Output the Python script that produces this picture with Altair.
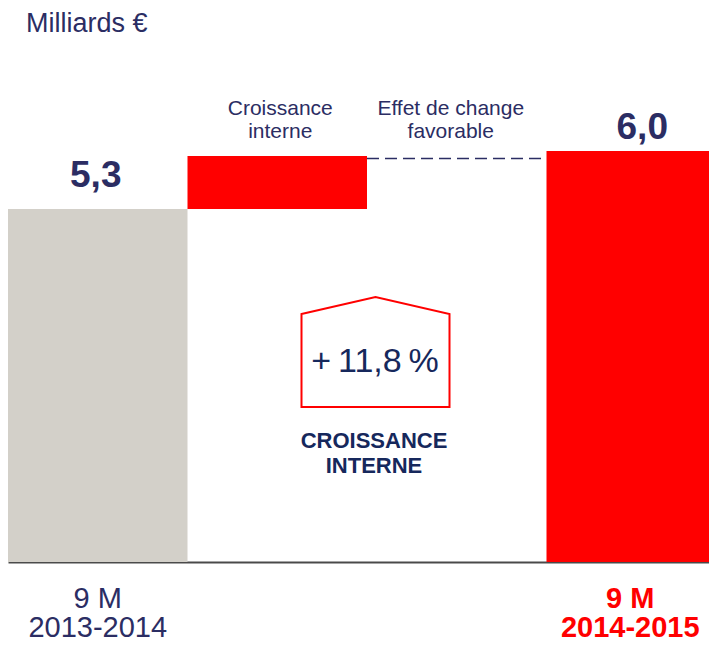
import altair as alt
import pandas as pd

# ---- data ----
categories = ["9 M\n2013-2014", "Croissance\ninterne", "Effet de change\nfavorable", "9 M\n2014-2015"]
bar_kind = ["prev", "growth", "fx", "curr"]
bar_start = [0.0, 5.3, 5.94, 0.0]
bar_end = [5.3, 5.94, 6.0, 6.0]
value_labels = ["5,3", "", "", "6,0"]
fx_level = 5.91
growth_label = "+\u200911,8\u2009%"
growth_caption = "CROISSANCE\nINTERNE"
unit_label = "Milliards €"

NAVY = "#2b2d63"
DARK = "#16285c"
RED = "#ff0000"
GREY = "#d3d0c9"
FONT = "Liberation Sans"

W, H = 701, 554

df = pd.DataFrame({"cat": categories, "kind": bar_kind, "start": bar_start,
                   "end": bar_end, "label": value_labels})
df["level"] = [None, None, fx_level, None]

y_scale = alt.Scale(domain=[1.039, 7.725], clamp=True, nice=False, zero=False)

label_expr = "indexof(datum.value, '9 M') == 0 ? split(datum.value, '\\n') : ''"
is_new = "indexof(datum.value, '2014-2015') >= 0"
x_enc = alt.X(
    "cat:N", sort=categories, title=None,
    scale=alt.Scale(paddingInner=0, paddingOuter=0, range=[0, 718]),
    axis=alt.Axis(
        labelExpr=label_expr, labelAngle=0, ticks=False,
        domainColor="#4a4a4a", domainWidth=2,
        labelFont=FONT, labelFontSize=29, labelLineHeight=29,
        labelPadding=22,
        labelOffset=alt.condition(is_new, alt.value(-6), alt.value(0)),
        labelColor=alt.condition(is_new, alt.value(RED), alt.value(NAVY)),
        labelFontWeight=alt.condition(is_new, alt.value("bold"), alt.value("normal")),
    ),
)
xs = alt.X("cat:N", sort=categories)

base = alt.Chart(df)

bars = base.transform_filter("datum.kind != 'fx'").mark_bar().encode(
    x=x_enc,
    y=alt.Y("end:Q", scale=y_scale, axis=None),
    y2="start:Q",
    color=alt.Color("kind:N", scale=alt.Scale(domain=["prev", "growth", "curr"],
                                              range=[GREY, RED, RED]), legend=None),
)

fx_rule = base.transform_filter("datum.kind == 'fx'").mark_rule(
    strokeDash=[12, 6], color=NAVY, strokeWidth=1.5
).encode(
    x=alt.X("cat:N", sort=categories, bandPosition=0),
    x2=alt.X2("cat:N", bandPosition=1),
    y=alt.Y("level:Q", scale=y_scale),
)

lab_prev = base.transform_filter("datum.kind == 'prev'").mark_text(
    font=FONT, fontSize=37, fontWeight="bold", color=NAVY, baseline="alphabetic", dy=-22, dx=-2
).encode(x=xs, y=alt.Y("end:Q", scale=y_scale), text="label:N")

lab_curr = base.transform_filter("datum.kind == 'curr'").mark_text(
    font=FONT, fontSize=37, fontWeight="bold", color=NAVY, baseline="alphabetic", dy=-12, dx=6
).encode(x=xs, y=alt.Y("end:Q", scale=y_scale), text="label:N")

head_growth = base.transform_filter("datum.kind == 'growth'").mark_text(
    font=FONT, fontSize=21, color=NAVY, baseline="alphabetic", lineBreak="\n", lineHeight=23, dx=3
).encode(x=xs, y=alt.value(107), text="cat:N")

head_fx = base.transform_filter("datum.kind == 'fx'").mark_text(
    font=FONT, fontSize=21, color=NAVY, baseline="alphabetic", lineBreak="\n", lineHeight=23, dx=-6
).encode(x=xs, y=alt.value(107), text="cat:N")

ann = pd.DataFrame({"unit": [unit_label], "growth": [growth_label], "caption": [growth_caption]})
abase = alt.Chart(ann)

unit_txt = abase.mark_text(font=FONT, fontSize=27, color=NAVY, align="left",
                           baseline="alphabetic").encode(
    x=alt.value(18), y=alt.value(24), text="unit:N")

house = abase.mark_point(
    shape="M-1,-0.514L0,-0.743L1,-0.514L1,0.743L-1,0.743Z",
    size=21904, filled=False, stroke=RED, strokeWidth=2, opacity=1
).encode(x=alt.value(367.5), y=alt.value(344))

growth_txt = abase.mark_text(font=FONT, fontSize=34, color=DARK, baseline="middle").encode(
    x=alt.value(367), y=alt.value(354), text="growth:N")

caption_txt = abase.mark_text(font=FONT, fontSize=22, fontWeight="bold", color=DARK,
                              baseline="alphabetic", lineBreak="\n", lineHeight=25).encode(
    x=alt.value(366), y=alt.value(440), text="caption:N")

chart = alt.layer(bars, fx_rule, lab_prev, lab_curr, head_growth, head_fx, unit_txt, house,
                  growth_txt, caption_txt).properties(
    width=W, height=H,
    autosize=alt.AutoSizeParams(type="none"),
    padding={"left": 0, "top": 0, "right": 0, "bottom": 635 - H},
).configure_view(stroke=None)

chart.save("out.html", embed_options={"renderer": "svg", "actions": False})
